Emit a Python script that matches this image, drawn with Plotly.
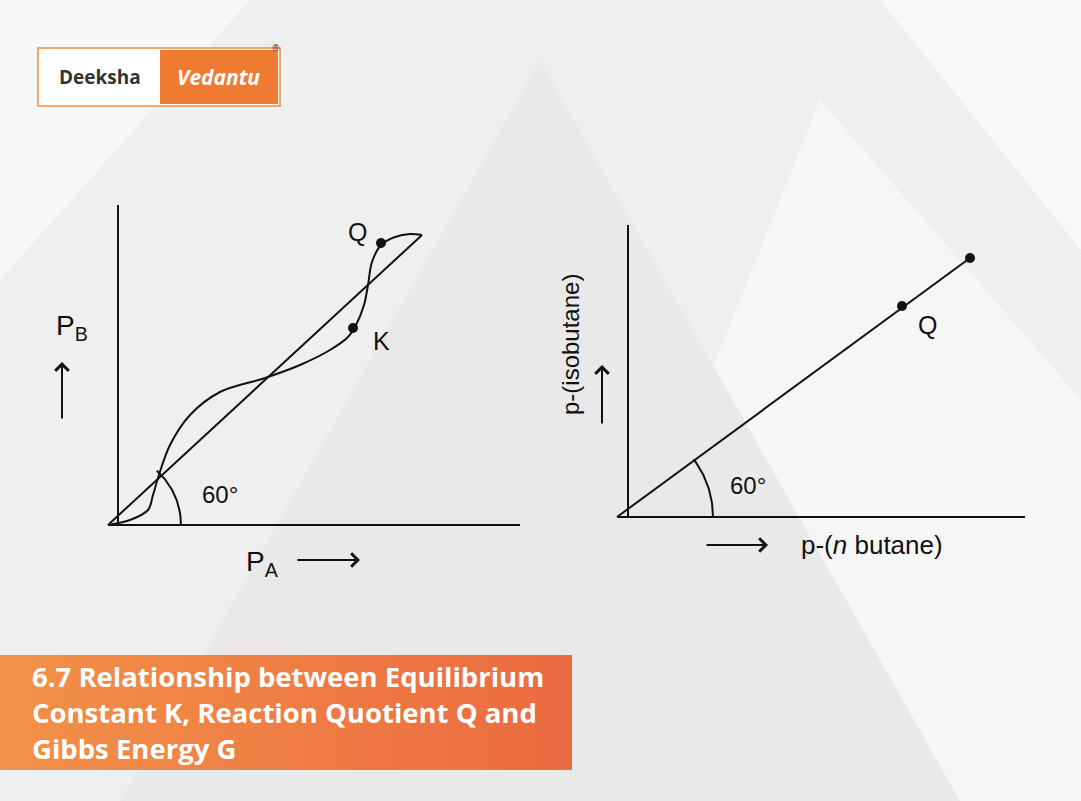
import plotly.graph_objects as go
import numpy as np

# ---- data (pixel-space diagram coordinates) ----
left_yaxis_x = [118, 118]; left_yaxis_y = [205, 525]
left_xaxis_x = [108, 520]; left_xaxis_y = [525, 525]
left_diag_x = [108, 422]; left_diag_y = [525, 235]
curve_x = [108, 130, 148, 153, 158, 170, 190, 220, 265, 300, 330, 348, 356, 364, 368, 372, 381, 395, 410, 422]
curve_y = [525, 520, 510, 495, 478, 445, 415, 392, 378, 365, 350, 337, 325, 305, 285, 262, 245, 237, 234, 235]
left_pts_x = [353, 381]; left_pts_y = [328, 243]
right_yaxis_x = [628, 628]; right_yaxis_y = [225, 517]
right_xaxis_x = [617, 1025]; right_xaxis_y = [517, 517]
right_line_x = [617, 970]; right_line_y = [517, 258]
right_pts_x = [902, 970]; right_pts_y = [306, 258]

fig = go.Figure()
ln = dict(color="#111", width=2)

bg_polys = [
    ([0, 250, 0], [0, 0, 280], "#f7f7f7"),
    ([540, 820, 1081, 1081, 760], [801, 100, 400, 801, 801], "#f6f6f6"),
    ([120, 540, 960, 960], [801, 60, 801, 801], "#e9e9e9"),
    ([880, 1081, 1081], [0, 0, 250], "#f8f8f8"),
]
for px, py, c in bg_polys:
    fig.add_trace(go.Scatter(x=px, y=py, fill="toself", fillcolor=c, line=dict(width=0), mode="lines", hoverinfo="skip"))

for xs, ys in [(left_yaxis_x, left_yaxis_y), (left_xaxis_x, left_xaxis_y), (left_diag_x, left_diag_y),
               (right_yaxis_x, right_yaxis_y), (right_xaxis_x, right_xaxis_y), (right_line_x, right_line_y)]:
    fig.add_trace(go.Scatter(x=xs, y=ys, mode="lines", line=ln))
fig.add_trace(go.Scatter(x=curve_x, y=curve_y, mode="lines", line=dict(color="#111", width=2, shape="spline")))
fig.add_trace(go.Scatter(x=left_pts_x, y=left_pts_y, mode="markers", marker=dict(color="#111", size=10)))
fig.add_trace(go.Scatter(x=right_pts_x, y=right_pts_y, mode="markers", marker=dict(color="#111", size=10)))

t = np.linspace(0, np.radians(48), 30)
fig.add_trace(go.Scatter(x=108 + 73*np.cos(t), y=525 - 73*np.sin(t), mode="lines", line=ln))
t = np.linspace(0, np.radians(37), 30)
fig.add_trace(go.Scatter(x=617 + 96*np.cos(t), y=517 - 96*np.sin(t), mode="lines", line=ln))

def arrow(x0, y0, x1, y1):
    fig.add_annotation(x=x1, y=y1, ax=x0, ay=y0, xref="x", yref="y", axref="x", ayref="y",
                       showarrow=True, arrowhead=4, arrowsize=1.3, arrowwidth=2, arrowcolor="#111", text="")
arrow(62, 420, 62, 362)
arrow(296, 560, 360, 560)
arrow(602, 425, 602, 365)
arrow(705, 545, 768, 545)

f = dict(family="Liberation Sans", color="#111")
def txt(x, y, s, size=24, **kw):
    fig.add_annotation(x=x, y=y, text=s, showarrow=False, font=dict(size=size, **f), **kw)
txt(72, 327, "P<sub>B</sub>", 28)
txt(262, 563, "P<sub>A</sub>", 28)
txt(220, 494, "60°", 24)
txt(357, 232, "Q", 25)
txt(381, 341, "K", 25)
txt(748, 485, "60°", 24)
txt(927, 325, "Q", 25)
txt(570, 345, "p-(isobutane)", 24, textangle=-90)
txt(872, 545, "p-(<i>n</i> butane)", 26)

# logo
fig.add_shape(type="rect", x0=38, y0=48, x1=280, y1=106, fillcolor="white", line=dict(color="#f08a3a", width=1.5), layer="above")
fig.add_shape(type="rect", x0=160, y0=50, x1=278, y1=104, fillcolor="#ef7a32", line=dict(width=0), layer="above")
fig.add_annotation(x=100, y=77, text="<b>Deeksha</b>", showarrow=False, font=dict(family="Open Sans", size=19, color="#333"))
fig.add_annotation(x=218, y=77, text="<b><i>Vedantu</i></b>", showarrow=False, font=dict(family="Open Sans", size=21, color="white"))
fig.add_annotation(x=276, y=47, text="®", showarrow=False, font=dict(size=9, color="#333"))

# banner
fig.add_trace(go.Scatter(x=[0, 572, 572, 0, 0], y=[655, 655, 770, 770, 655], mode="lines", fill="toself",
                         line=dict(width=0),
                         fillgradient=dict(type="horizontal", colorscale=[[0, "#f29148"], [1, "#ec6a40"]])))
fig.add_annotation(x=30, y=712, xanchor="left", yanchor="middle", align="left", showarrow=False,
                   text="<b>6.7 Relationship between Equilibrium<br>Constant K, Reaction Quotient Q and<br>Gibbs Energy G</b>",
                   font=dict(family="Open Sans", size=27.5, color="white"))

fig.update_layout(width=1081, height=801, margin=dict(l=0, r=0, t=0, b=0), showlegend=False,
                  paper_bgcolor="#efefef", plot_bgcolor="#efefef",
                  xaxis=dict(range=[0, 1081], visible=False, fixedrange=True),
                  yaxis=dict(range=[801, 0], visible=False, fixedrange=True))
fig.write_html("out.html", config={"displayModeBar": False},
               post_script="document.body.style.margin='0';document.body.style.overflow='hidden';")
